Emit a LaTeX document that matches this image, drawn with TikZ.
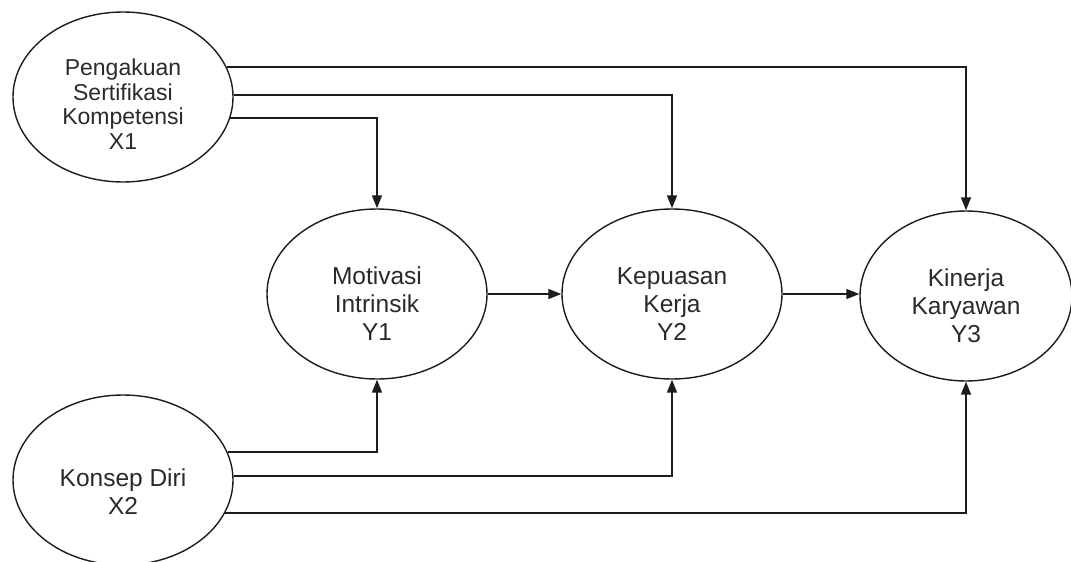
\documentclass[tikz,border=0pt]{standalone}
\usepackage{fontspec}
\setmainfont{Liberation Sans}
\usetikzlibrary{arrows.meta,shapes.geometric}
\definecolor{ink}{HTML}{1C1C1C}
\definecolor{txt}{HTML}{2A2A2A}
\begin{document}
\begin{tikzpicture}[x=1pt,y=-1pt,
  latent/.style={draw=ink, line width=1.4pt, ellipse, fill=white,
    minimum width=220pt, minimum height=170pt, inner sep=0pt},
  caption/.style={text=txt, align=center, font=\fontsize{24.5}{28}\selectfont},
  link/.style={draw=ink, line width=1.6pt,
    -{Triangle[length=13pt,width=10pt]}}]
\useasboundingbox (0,0) rectangle (1071,562);
\fill[white] (0,0) rectangle (1071,562);

% latent variables
\node[latent] (X1) at (123,97) {};
\node[latent] (X2) at (123,480) {};
\node[latent] (Y1) at (377,294) {};
\node[latent] (Y2) at (672,294) {};
\node[latent, minimum width=212pt] (Y3) at (966,296) {};

% their captions
\node[caption, font=\fontsize{23}{24.5}\selectfont] (tX1) at ([yshift=-7pt]X1.center)
  {Pengakuan\\Sertifikasi\\Kompetensi\\X1};
\node[caption] (tX2) at ([yshift=-12pt]X2.center) {Konsep Diri\\X2};
\node[caption] (tY1) at ([yshift=-10pt]Y1.center) {Motivasi\\Intrinsik\\Y1};
\node[caption] (tY2) at ([yshift=-10pt]Y2.center) {Kepuasan\\Kerja\\Y2};
\node[caption] (tY3) at ([yshift=-10pt]Y3.center) {Kinerja\\Karyawan\\Y3};

% paths from X1
\draw[link] (X1.16) -| (Y3.north);
\draw[link] (X1.1) -| (Y2.north);
\draw[link] (X1.-11) -| (Y1.north);

% paths from X2
\draw[link] (X2.15) -| (Y1.south);
\draw[link] (X2.2) -| (Y2.south);
\draw[link] (X2.-18) -| (Y3.south);

% chain Y1 -> Y2 -> Y3
\draw[link] (Y1.east) -- (Y2.west);
\draw[link] (Y2.east) -- (Y3.west |- Y2.east);
\end{tikzpicture}
\end{document}
